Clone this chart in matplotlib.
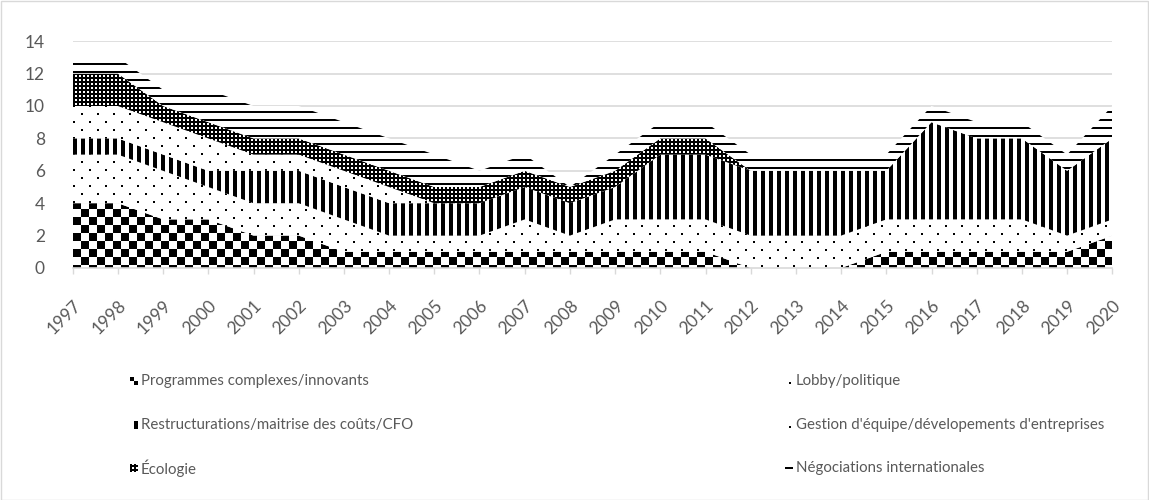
import numpy as np
import matplotlib
matplotlib.use("Agg")
import matplotlib.pyplot as plt
from matplotlib.patches import Rectangle

# ---------------- data ----------------
years = [str(y) for y in range(1997, 2021)]
programmes = [4, 4, 3, 3, 2, 2, 1, 1, 1, 1, 1, 1, 1, 1, 1, 0, 0, 0, 1, 1, 1, 1, 1, 2]
lobby = [3, 3, 3, 2, 2, 2, 2, 1, 1, 1, 2, 1, 2, 2, 2, 2, 2, 2, 2, 2, 2, 2, 1, 1]
restructurations = [1, 1, 1, 1, 2, 2, 2, 2, 2, 2, 2, 2, 2, 4, 4, 4, 4, 4, 3, 6, 5, 5, 4, 5]
gestion = [2, 2, 2, 2, 1, 1, 1, 1, 0, 0, 0, 0, 0, 0, 0, 0, 0, 0, 0, 0, 0, 0, 0, 0]
ecologie = [2, 2, 1, 1, 1, 1, 1, 1, 1, 1, 1, 1, 1, 1, 1, 0, 0, 0, 0, 0, 0, 0, 0, 0]
negociations = [1, 1, 1, 2, 2, 2, 2, 2, 2, 1, 1, 0, 1, 1, 1, 1, 1, 1, 1, 1, 1, 1, 1, 2]

labels = ["Programmes complexes/innovants", "Lobby/politique",
          "Restructurations/maitrise des coûts/CFO",
          "Gestion d'équipe/dévelopements d'entreprises",
          "Écologie", "Négociations internationales"]
series = [programmes, lobby, restructurations, gestion, ecologie, negociations]
patterns = ["checker", "dots", "vbars", "dots", "grid", "hlines"]

plt.rcParams["font.family"] = ["Lato", "DejaVu Sans"]
GRAY = "#595959"
LIGHT = "#d9d9d9"


def texture(kind, h, w, dx=0, dy=0):
    Y, X = np.mgrid[0:h, 0:w]
    X = X + dx
    Y = Y + dy
    if kind == "checker":
        m = ((X // 8 + Y // 8) % 2) == 0
    elif kind == "dots":
        m = (((Y % 16) < 2) & ((X % 16) < 2)) | ((((Y - 8) % 16) < 2) & (((X - 8) % 16) < 2))
    elif kind == "vbars":
        m = (X % 8) < 4
    elif kind == "grid":
        m = ((X % 4) < 2) | ((Y % 4) < 2)
    elif kind == "hlines":
        m = (Y % 8) >= 6
    else:
        m = np.zeros((h, w), bool)
    img = np.ones((h, w, 3))
    img[m] = 0.0
    return img


W, H = 1149, 500
fig = plt.figure(figsize=(W / 100, H / 100), dpi=100)
px_left, px_right, px_top, px_bottom = 72.7, 1112.3, 41.2, 268.0
ax = fig.add_axes([px_left / W, 1 - px_bottom / H,
                   (px_right - px_left) / W, (px_bottom - px_top) / H])

x = np.arange(len(years))
ax.set_xlim(0, len(years) - 1)
ax.set_ylim(0, 14)

aw = int(round(ax.bbox.width))
ah = int(round(ax.bbox.height))

lower = np.zeros(len(years))
for vals, pat in zip(series, patterns):
    upper = lower + np.array(vals, float)
    poly = ax.fill_between(x, lower, upper, facecolor="none", edgecolor="none",
                           linewidth=0, zorder=2)
    im = ax.imshow(texture(pat, ah, aw), extent=(0, len(years) - 1, 0, 14),
                   origin="upper", interpolation="nearest", aspect="auto", zorder=2)
    im.set_clip_path(poly.get_paths()[0], transform=ax.transData)
    lower = upper

ax.set_xlim(0, len(years) - 1)
ax.set_ylim(0, 14)
ax.set_yticks(range(0, 15, 2))
ax.yaxis.grid(True, color=LIGHT, linewidth=1.2)
ax.set_axisbelow(True)
for s in ["top", "right", "left"]:
    ax.spines[s].set_visible(False)
ax.spines["bottom"].set_color(LIGHT)
ax.spines["bottom"].set_linewidth(1.2)
ax.spines["bottom"].set_zorder(3)
ax.tick_params(axis="y", length=0, pad=20, labelsize=12.5, labelcolor=GRAY)
ax.tick_params(axis="x", length=4, width=1, color=LIGHT, pad=17,
               labelsize=12.5, labelcolor=GRAY)
ax.set_xticks(x)
ax.set_xticklabels(years, rotation=45, ha="right", va="top",
                   rotation_mode="anchor")

# legend (3 rows x 2 columns)
rows_y = [381, 425, 468]
cols_x = [130, 785]
for i, (lab, pat) in enumerate(zip(labels, patterns)):
    r, c = divmod(i, 2)
    ix, iy = cols_x[c], rows_y[r]
    icon = texture(pat, 8, 8, dx=4, dy=4 if pat == "checker" else 3)
    fig.figimage(icon, xo=ix, yo=H - iy - 4, origin="upper", zorder=5)
    fig.text((ix + 11) / W, 1 - iy / H, lab, fontsize=10.8, color=GRAY,
             va="center", ha="left")

fig.patches.append(Rectangle((0.5 / W, 0.5 / H), (W - 1.5) / W, (H - 1.5) / H,
                             transform=fig.transFigure, fill=False,
                             edgecolor=LIGHT, linewidth=1))

fig.savefig("out.png", dpi=100, facecolor="white")
